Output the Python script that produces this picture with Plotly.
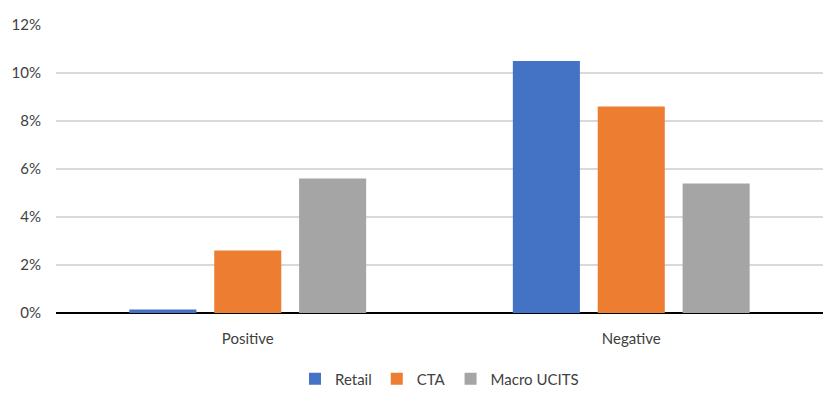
import plotly.graph_objects as go

categories = ["Positive", "Negative"]
retail = [0.0015, 0.105]
cta = [0.026, 0.086]
macro_ucits = [0.056, 0.054]
y_ticks = [0, 0.02, 0.04, 0.06, 0.08, 0.10, 0.12]
y_tick_labels = ["0%", "2%", "4%", "6%", "8%", "10%", "12%"]

font_family = "Lato, Noto Sans, sans-serif"
text_color = "#404040"

fig = go.Figure()
for name, vals, col in [("Retail", retail, "#4472C4"), ("CTA", cta, "#ED7D31"),
                        ("Macro UCITS", macro_ucits, "#A5A5A5")]:
    fig.add_trace(go.Bar(name=name, x=categories, y=vals, marker_color=col,
                         marker_line_width=0))

fig.update_layout(
    width=837, height=397,
    margin=dict(l=48, r=22, t=17, b=92, autoexpand=False),
    paper_bgcolor="white", plot_bgcolor="white",
    barmode="group", bargap=0.336, bargroupgap=0.21,
    font=dict(family=font_family, size=15, color=text_color),
    showlegend=True,
    legend=dict(orientation="h", x=0.5, xanchor="center", y=-0.172, yanchor="top",
                font=dict(size=15, color=text_color), itemwidth=30),
    xaxis=dict(showgrid=False, showline=False, ticks="", automargin=False,
               ticklabelstandoff=15, tickfont=dict(size=15, color=text_color)),
    yaxis=dict(range=[0, 0.12], tickvals=y_ticks, ticktext=y_tick_labels,
               showgrid=True, gridcolor="#D9D9D9", gridwidth=1.5, automargin=False,
               zeroline=True, zerolinecolor="black", zerolinewidth=2,
               showline=False, ticks="", ticklabelstandoff=14,
               tickfont=dict(size=15, color=text_color)),
)
fig.write_html("out.html")
